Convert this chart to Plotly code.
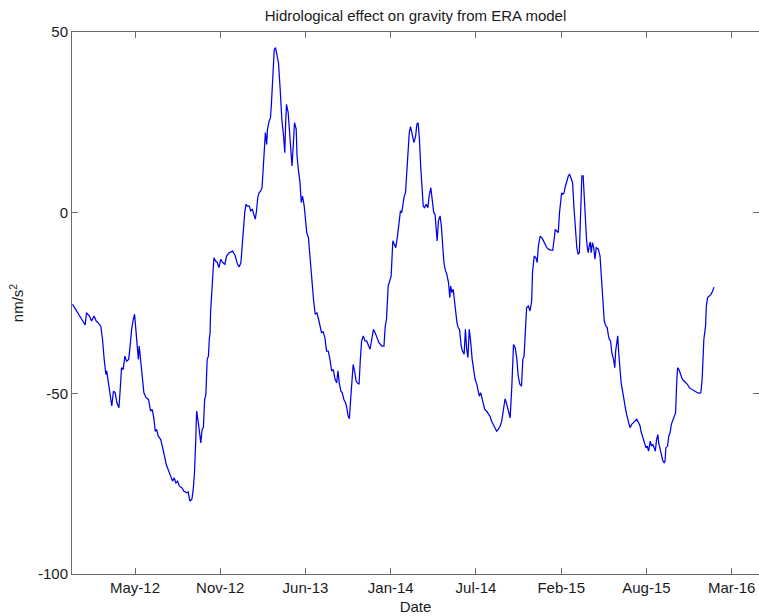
import plotly.graph_objects as go
import pandas as pd

# Days since 2012-01-01
day_offsets = [
    -23, -13, -1, 7, 10, 17, 22, 28, 33, 38, 44, 48, 52, 56, 58, 62, 66, 70, 74, 78,
    82, 87, 91, 93, 97, 101, 105, 110, 113, 117, 121, 124, 127, 131, 133, 135, 138, 142, 146, 151,
    157, 162, 166, 170, 173, 176, 180, 186, 191, 195, 199, 204, 210, 214, 218, 222, 226, 230, 236, 241,
    248, 251, 255, 260, 263, 266, 269, 271, 274, 278, 281, 284, 287, 290, 293, 296, 299, 301, 303, 304,
    307, 309, 312, 316, 320, 324, 328, 333, 338, 342, 348, 354,
    356, 362, 368, 372, 376, 379, 382, 385, 388, 392, 396, 399, 403, 407, 410, 413, 416, 419, 423, 426,
    428, 431, 434, 437, 439, 443, 446, 448, 450, 453, 455, 458, 461, 465, 469, 473, 477, 480, 482, 484,
    488, 491, 494, 497, 500, 503, 507, 509, 512, 516, 519, 522, 526, 529, 532, 536, 540, 544, 548, 552,
    556, 560, 564, 567, 571, 575, 579, 583, 587, 591, 595, 599, 603, 606, 609, 613, 616, 620, 624, 627,
    630, 633, 636, 639, 642, 646, 649, 652, 656, 659, 662, 666, 670, 674, 678, 682, 686, 690, 694, 698,
    703, 710, 715, 718, 721, 725, 728, 732,
    736, 743, 747, 751, 754, 757, 760, 763, 766, 769, 772, 775, 778, 782, 786, 790, 793, 796, 799, 802,
    805, 808, 811, 815, 819, 822, 826, 830, 833, 836, 838, 841, 844, 848, 851, 854, 857, 860, 864, 868,
    871, 873, 876, 879, 882, 885, 888, 891, 894, 898, 901, 905, 908, 911, 914, 917, 920, 924, 927, 931,
    935, 938, 941, 944, 947, 950, 954, 958, 962, 966, 970, 974, 978, 982, 986, 990, 994, 998, 1002, 1006,
    1010, 1014, 1018, 1022, 1026, 1030, 1033, 1037, 1041, 1044, 1047, 1050, 1053, 1057, 1061, 1065, 1067, 1071, 1075, 1078,
    1081, 1085, 1089, 1093, 1097, 1101, 1105, 1108,
    1115, 1118, 1121, 1124, 1128, 1131, 1134, 1136, 1139, 1142, 1144, 1148, 1152, 1155, 1158, 1162, 1165, 1169, 1172, 1175,
    1178, 1180, 1183, 1184, 1187, 1189, 1191, 1195, 1197, 1199, 1202, 1204, 1206, 1209, 1212, 1215, 1218, 1223, 1227, 1229,
    1233, 1235, 1237, 1241, 1244, 1247, 1249, 1252, 1255, 1259, 1262, 1264, 1266, 1269, 1271, 1274, 1277, 1281, 1284, 1287,
    1290, 1294, 1298, 1302, 1306, 1310, 1314, 1318, 1322, 1324, 1327, 1330, 1333, 1336, 1339, 1342, 1346, 1349, 1352, 1355,
    1358, 1361, 1364, 1366, 1369, 1372, 1376, 1379, 1381, 1383, 1387, 1390, 1393, 1396, 1399, 1402, 1406, 1409, 1411, 1414,
    1418, 1422, 1426, 1430, 1434, 1439, 1444, 1450, 1456, 1462, 1466, 1469, 1471, 1473, 1477, 1479, 1482, 1486, 1490, 1494,
    1497,
]

# Hydrological gravity effect, nm/s^2
gravity = [
    -25.4, -27.2, -29.5, -31.1, -27.7, -28.6, -30.0, -28.6, -30.0, -30.5, -31.4, -35.1, -40.6, -44.8, -43.8, -47.1, -50.8, -53.5, -49.4, -49.8,
    -52.6, -54.0, -47.1, -42.9, -43.4, -39.7, -41.1, -40.6, -37.4, -32.3, -29.5, -28.1, -32.3, -37.8, -40.6, -36.9, -40.6, -45.2, -49.8, -51.2,
    -51.7, -54.9, -54.5, -57.2, -60.5, -60.0, -61.8, -62.8, -65.1, -67.4, -69.7, -71.1, -72.9, -74.3, -73.4, -74.8, -74.3, -75.7, -76.1, -77.1,
    -77.5, -77.3, -79.8, -79.2, -76.6, -72.0, -62.8, -54.9, -57.2, -60.9, -63.7, -60.0, -59.5, -51.7, -50.3, -40.6, -39.7, -35.1, -33.2, -27.7,
    -20.8, -18.5, -12.5, -13.4, -13.8, -15.2, -12.9, -13.8, -14.3, -12.0, -11.1, -10.8,
    -10.6, -11.8, -14.3, -15.0, -13.8, -9.2, -3.7, 0.0, 2.3, 1.8, 1.8, 0.5, 0.9, -0.5, -1.8, 0.5, 4.2, 5.5, 6.0, 6.9,
    11.1, 17.5, 22.2, 18.9, 23.1, 25.4, 26.3, 29.5, 35.1, 42.0, 45.2, 45.7, 43.8, 41.5, 34.2, 25.8, 21.2, 16.6, 24.9, 30.0,
    27.7, 22.2, 17.5, 12.9, 18.5, 24.9, 23.1, 15.7, 12.0, 8.3, 2.8, 4.6, 1.8, -1.8, -5.5, -6.9, -12.9, -18.5, -24.0, -28.1,
    -27.7, -29.5, -31.4, -33.2, -33.0, -34.6, -38.3, -38.3, -40.6, -43.8, -43.4, -46.1, -47.1, -43.8, -47.1, -49.4, -49.8, -51.7, -52.6, -54.0,
    -56.3, -57.0, -51.7, -45.2, -42.0, -44.3, -46.6, -47.1, -47.5, -40.6, -35.5, -34.1, -35.5, -35.5, -36.5, -37.8, -35.1, -32.3, -33.2, -34.6,
    -36.0, -36.9, -36.9, -31.4, -29.5, -20.3, -18.9, -17.5,
    -7.8, -9.7, -6.5, -1.8, 0.5, 0.0, 2.8, 4.6, 5.5, 12.0, 19.4, 22.2, 23.8, 21.2, 19.4, 21.2, 24.5, 24.9, 20.3, 12.9,
    7.4, 1.8, 1.4, 2.3, 1.4, 4.6, 6.9, 2.8, 0.0, -0.5, -3.7, -7.8, -2.3, -0.9, -3.7, -9.2, -13.8, -15.7, -17.1, -19.4,
    -23.5, -20.3, -22.1, -21.2, -24.9, -27.2, -30.5, -31.8, -32.3, -36.9, -38.3, -39.2, -32.3, -37.8, -40.1, -32.3, -35.1, -40.6, -43.4, -46.1,
    -47.5, -48.9, -50.8, -49.8, -51.2, -53.1, -54.5, -54.9, -55.8, -56.3, -57.7, -58.6, -59.5, -60.5, -60.0, -59.1, -57.7, -54.9, -51.5, -53.1,
    -55.4, -56.8, -48.0, -36.5, -37.4, -40.6, -45.2, -47.5, -48.0, -40.6, -39.7, -34.1, -26.3, -25.8, -27.2, -24.5, -16.6, -12.0, -12.5, -13.8,
    -9.2, -6.5, -6.9, -7.8, -8.8, -9.7, -10.1, -10.3,
    -10.4, -6.5, -4.6, -5.1, -5.5, 0.0, 4.6, 5.5, 5.1, 5.5, 6.9, 8.8, 10.2, 10.6, 9.7, 8.3, 1.8, -5.5, -9.7, -11.5,
    -11.1, -3.7, 7.4, 10.2, 10.2, 5.5, -1.8, -7.4, -9.7, -11.1, -8.8, -8.1, -11.1, -8.3, -9.7, -12.9, -9.7, -10.1, -12.0, -15.7,
    -20.3, -24.9, -30.0, -31.4, -31.8, -34.1, -35.1, -35.5, -38.8, -40.6, -42.9, -38.3, -36.9, -34.1, -38.3, -44.3, -47.1, -49.8, -52.6, -54.0,
    -55.8, -57.7, -59.5, -58.6, -58.1, -57.7, -57.2, -58.0, -59.1, -60.5, -61.8, -62.8, -63.7, -65.1, -64.6, -66.0, -63.2, -64.6, -64.1, -65.1,
    -66.0, -62.8, -61.4, -63.7, -65.5, -67.4, -68.8, -69.2, -68.8, -65.1, -64.6, -61.8, -60.9, -58.6, -57.7, -56.8, -55.4, -46.1, -42.9, -43.4,
    -44.8, -46.1, -46.6, -47.1, -47.5, -48.5, -48.9, -49.4, -49.7, -50.0, -49.8, -46.1, -40.6, -35.1, -31.4, -25.8, -23.5, -23.1, -22.6, -21.7,
    -20.6,
]

tick_dates = ["2012-05-05", "2012-11-23", "2013-06-13", "2014-01-01",
              "2014-07-22", "2015-02-09", "2015-08-30", "2016-03-19"]
tick_labels = ["May-12", "Nov-12", "Jun-13", "Jan-14", "Jul-14", "Feb-15", "Aug-15", "Mar-16"]
x_range = ["2011-12-07 17:00", "2016-05-22 17:00"]
y_range = [-100, 50]
y_ticks = [-100, -50, 0, 50]
y_tick_labels = ["-100", "-50", "0", "50"]

assert len(day_offsets) == len(gravity)
dates = pd.Timestamp("2012-01-01") + pd.to_timedelta(day_offsets, unit="D")

AX = "#6a6a6a"
TXT = "#1a1a1a"
FONT = "Liberation Sans, Arial, Helvetica, sans-serif"

fig = go.Figure()
fig.add_trace(go.Scatter(x=dates, y=gravity, mode="lines",
                         line=dict(color="#0000ee", width=1.25),
                         showlegend=False, hoverinfo="skip"))
fig.add_trace(go.Scatter(x=[], y=[], yaxis="y2", showlegend=False))

fig.update_layout(
    width=759, height=616,
    margin=dict(l=72, r=0, t=32, b=42, pad=0),
    paper_bgcolor="white", plot_bgcolor="white",
    font=dict(family=FONT, size=15, color=TXT),
    showlegend=False,
    title=dict(text="Hidrological effect on gravity from ERA model",
               x=0.5, xref="paper", xanchor="center",
               y=1 - 16 / 616, yref="container", yanchor="middle",
               font=dict(family=FONT, size=15, color=TXT)),
    xaxis=dict(type="date", range=x_range, tickvals=tick_dates, ticktext=tick_labels,
               ticks="inside", ticklen=6, tickcolor=AX, tickwidth=1,
               showline=True, linecolor=AX, linewidth=1, mirror="ticks",
               showgrid=False, zeroline=False,
               tickfont=dict(family=FONT, size=15, color=TXT),
               title=dict(text="Date", standoff=6,
                          font=dict(family=FONT, size=15, color=TXT))),
    yaxis=dict(range=y_range, tickvals=y_ticks, ticktext=y_tick_labels,
               ticks="inside", ticklen=6, tickcolor=AX, tickwidth=1,
               showline=True, linecolor=AX, linewidth=1, mirror=False,
               showgrid=False, zeroline=False,
               tickfont=dict(family=FONT, size=15, color=TXT),
               title=dict(text="nm/s<sup>2</sup>", standoff=10,
                          font=dict(family=FONT, size=15, color=TXT))),
    yaxis2=dict(range=y_range, tickvals=y_ticks, overlaying="y", side="right",
                ticks="inside", ticklen=6, tickcolor=AX, tickwidth=1,
                showticklabels=False, showline=False, showgrid=False, zeroline=False),
)

fig.write_html("out.html")
